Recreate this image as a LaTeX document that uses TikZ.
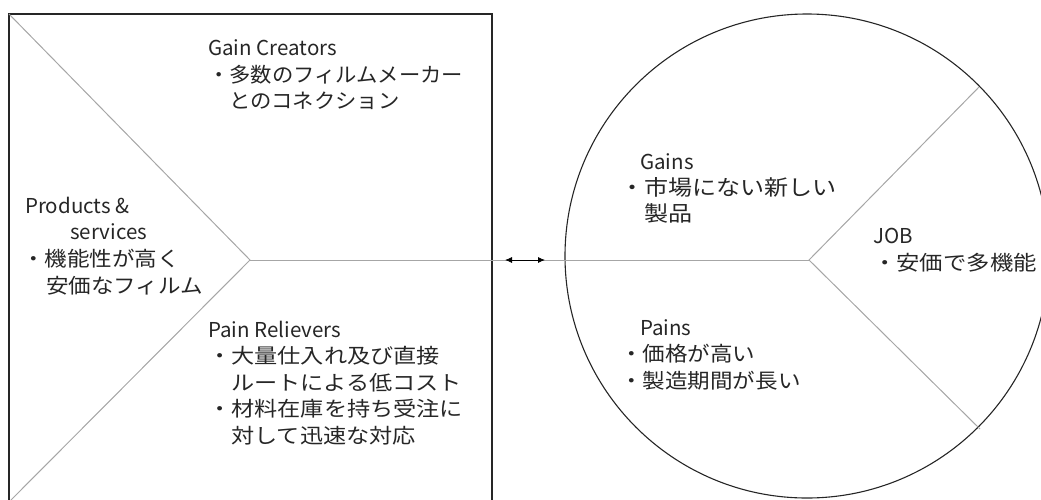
\documentclass[tikz,border=0pt]{standalone}
\usepackage{fontspec}
\setmainfont{Noto Sans CJK JP}
\newfontfamily\cjkA{Noto Sans CJK JP}[FakeStretch=1.04]
\newfontfamily\cjkB{Noto Sans CJK JP}[FakeStretch=1.1]
\newfontfamily\cjkC{Noto Sans CJK JP}[FakeStretch=1.13]
\newfontfamily\cjkD{Noto Sans CJK JP}[FakeStretch=1.14]
\usetikzlibrary{arrows.meta}
\definecolor{frameC}{HTML}{262626}
\definecolor{lineC}{HTML}{A6A6A6}
\definecolor{textC}{HTML}{262626}
\tikzset{
  frame/.style={draw=frameC, line width=1.1pt},
  divider/.style={draw=lineC, line width=1pt},
  txt/.style={anchor=base west, inner sep=0pt, text=textC, font=\fontsize{20.5pt}{26pt}\selectfont},
  jA/.style={txt, font=\fontsize{20.5pt}{26pt}\cjkA},
  jB/.style={txt, font=\fontsize{20.5pt}{26pt}\cjkB},
  jC/.style={txt, font=\fontsize{20.5pt}{26pt}\cjkC},
  jD/.style={txt, font=\fontsize{20.5pt}{26pt}\cjkD},
  jG/.style={txt, font=\fontsize{21.3pt}{26pt}\cjkC},
  link/.style={draw=black, line width=0.8pt, {Latex[length=7pt,width=6pt]}-{Latex[length=7pt,width=6pt]}}
}
\begin{document}
\begin{tikzpicture}[x=1pt,y=-1pt]
\useasboundingbox (0,0) rectangle (1041,499);
\clip (0,0) rectangle (1041,499);
% key points
\coordinate (tl) at (9,14);
\coordinate (br) at (492,502);
\coordinate (bl) at (9,502);
\coordinate (apexL) at (250,260);
\coordinate (c) at (807,256);
\coordinate (apexR) at (809,260);
\coordinate (ur) at (979,87);
\coordinate (lr) at (980,429);
\coordinate (a1) at (505,260);
\coordinate (a2) at (545,260);
% value map (square)
\draw[frame] (tl) rectangle (br);
\draw[divider] (tl) -- (apexL) -- (bl);
% customer profile (circle)
\draw[frame] (c) circle[radius=242];
\draw[divider] (ur) -- (apexR) -- (lr);
% link line
\draw[divider] (apexL) -- (apexR);
\draw[link] (a1) -- (a2);
% Gain Creators
\node[txt] (gc1) at (208,55) {Gain Creators};
\node[jA] (gc2) at (208,82) {・多数のフィルムメーカー};
\node[jA] (gc3) at (229,108) {とのコネクション};
% Products & services
\node[txt] (ps1) at (25,213) {Products \&};
\node[txt] (ps2) at (70,239) {services};
\node[jB] (ps3) at (22,266) {・機能性が高く};
\node[jB] (ps4) at (46,293) {安価なフィルム};
% Pain Relievers
\node[txt] (pr1) at (208,337) {Pain Relievers};
\node[jC] (pr2) at (208,363) {・大量仕入れ及び直接};
\node[jC] (pr3) at (231,390) {ルートによる低コスト};
\node[jC] (pr4) at (208,416) {・材料在庫を持ち受注に};
\node[jC] (pr5) at (231,443) {対して迅速な対応};
% Gains
\node[txt] (g1) at (640,169) {Gains};
\node[jG] (g2) at (620,195) {・市場にない新しい};
\node[jG] (g3) at (644,221) {製品};
% Pains
\node[txt] (p1) at (640,335) {Pains};
\node[jB] (p2) at (620,361) {・価格が高い};
\node[jB] (p3) at (620,388) {・製造期間が長い};
% JOB
\node[txt] (j1) at (873,243) {JOB};
\node[jD] (j2) at (873,270) {・安価で多機能};
\end{tikzpicture}
\end{document}
